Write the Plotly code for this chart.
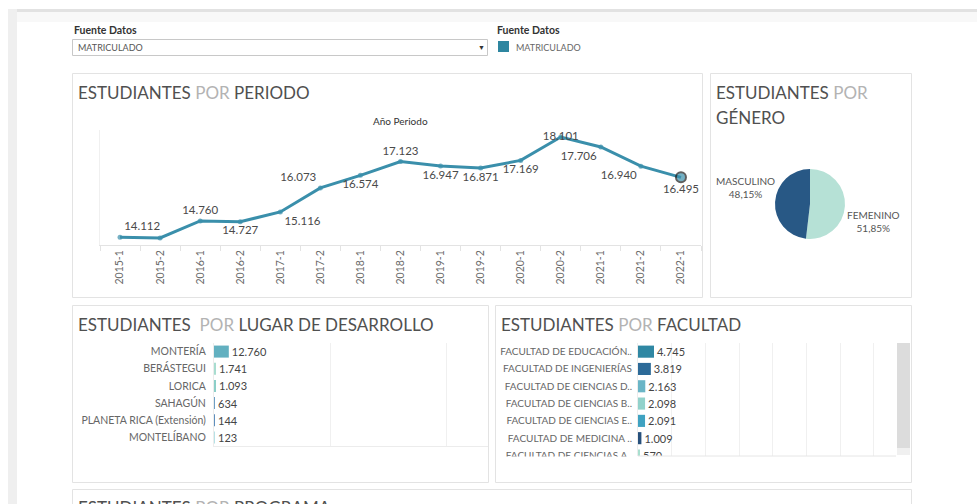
import plotly.graph_objects as go

W, H = 977, 504


def X(px):
    return px / W


def Y(py):
    return 1 - py / H


def fmt_miles(v):
    return f"{v:,}".replace(",", ".")


# ---------------- DATA ----------------
periodos = ["2015-1", "2015-2", "2016-1", "2016-2", "2017-1", "2017-2", "2018-1", "2018-2",
            "2019-1", "2019-2", "2020-1", "2020-2", "2021-1", "2021-2", "2022-1"]
estudiantes_periodo = [14112, 14080, 14760, 14727, 15116, 16073, 16574, 17123,
                       16947, 16871, 17169, 18101, 17706, 16940, 16495]
etiqueta_visible = [True, False, True, True, True, True, True, True,
                    True, True, True, True, True, True, True]

generos = ["FEMENINO", "MASCULINO"]
porcentaje_genero = [51.85, 48.15]

lugares = ["MONTERÍA", "BERÁSTEGUI", "LORICA", "SAHAGÚN", "PLANETA RICA (Extensión)", "MONTELÍBANO"]
estudiantes_lugar = [12760, 1741, 1093, 634, 144, 123]

facultades = ["FACULTAD DE EDUCACIÓN..", "FACULTAD DE INGENIERÍAS", "FACULTAD DE CIENCIAS D..",
              "FACULTAD DE CIENCIAS B..", "FACULTAD DE CIENCIAS E..", "FACULTAD DE MEDICINA ..",
              "FACULTAD DE CIENCIAS A.."]
estudiantes_facultad = [4745, 3819, 2163, 2098, 2091, 1009, 570]

fuente_datos = "MATRICULADO"

# ---------------- STYLE ----------------
FONT = "Lato, 'Open Sans', sans-serif"
LINE_COLOR = "#3a8fab"
TXT = "#555555"
BORDER = "#e3e3e3"

pos_periodo = ["top right", "top center", "top center", "bottom center", "bottom right",
               "top left", "bottom center", "top center", "bottom center", "bottom center",
               "bottom center", "middle center", "bottom left", "bottom left", "bottom center"]
col_lugar = ["#62b0c0", "#a8ddd0", "#8ccfc8", "#6e9fc4", "#5f8fbd", "#b7e2e6"]
col_facultad = ["#2f87a3", "#2c6a98", "#6ab5c6", "#92d2cb", "#3fa2c1", "#27507c", "#a8dfcf"]
col_genero = ["#b6e1d6", "#285885"]

fig = go.Figure()

n = len(periodos)
# ---------- line chart ----------
fig.add_trace(go.Scatter(
    x=periodos, y=estudiantes_periodo,
    mode="lines+markers+text",
    line=dict(color=LINE_COLOR, width=3),
    marker=dict(size=[5] * (n - 1) + [10], color=LINE_COLOR,
                line=dict(color=["rgba(0,0,0,0)"] * (n - 1) + ["#1b1b1b"],
                          width=[0] * (n - 1) + [2])),
    text=[fmt_miles(v) if s else "" for v, s in zip(estudiantes_periodo, etiqueta_visible)],
    textposition=pos_periodo,
    textfont=dict(size=11.5, color="#4a4a4a", family=FONT),
    cliponaxis=False,
    xaxis="x", yaxis="y", showlegend=False, hoverinfo="x+y",
))

# ---------- pie ----------
fig.add_trace(go.Pie(
    labels=generos, values=porcentaje_genero, sort=False, direction="clockwise", rotation=0,
    marker=dict(colors=col_genero, line=dict(width=0)), textinfo="none",
    domain=dict(x=[X(775), X(845)], y=[Y(239), Y(169)]), showlegend=False,
))

# ---------- lugar bars ----------
fig.add_trace(go.Bar(
    y=lugares, x=estudiantes_lugar, orientation="h",
    marker=dict(color=col_lugar, line=dict(width=0)), width=0.7,
    text=[fmt_miles(v) for v in estudiantes_lugar], textposition="outside",
    textfont=dict(size=11, color="#444444", family=FONT), constraintext="none",
    cliponaxis=False, xaxis="x2", yaxis="y2", showlegend=False,
))

# ---------- facultad bars ----------
fig.add_trace(go.Bar(
    y=facultades, x=estudiantes_facultad, orientation="h",
    marker=dict(color=col_facultad, line=dict(width=0)), width=0.7,
    text=[fmt_miles(v) for v in estudiantes_facultad], textposition="outside",
    textfont=dict(size=11, color="#444444", family=FONT), constraintext="none",
    cliponaxis=True, xaxis="x3", yaxis="y3", showlegend=False,
))

shapes = []


def rect(x0, y0, x1, y1, fill=None, line=None, layer="below", lw=1):
    shapes.append(dict(type="rect", xref="paper", yref="paper",
                       x0=X(x0), x1=X(x1), y0=Y(y1), y1=Y(y0),
                       fillcolor=fill or "rgba(0,0,0,0)",
                       line=dict(color=line or "rgba(0,0,0,0)", width=lw if line else 0),
                       layer=layer))


def hline(x0, x1, y, color, layer="below"):
    shapes.append(dict(type="line", xref="paper", yref="paper", x0=X(x0), x1=X(x1),
                       y0=Y(y), y1=Y(y), line=dict(color=color, width=1), layer=layer))


# page chrome
rect(8, 9, 977, 12, fill="#e2e2e2")
rect(8, 9, 17, 504, fill="#efefef")
rect(17, 12, 977, 22, fill="#f8f8f8")

# panels
rect(72.5, 73.5, 702.5, 297.5, line=BORDER)
rect(710.5, 73.5, 911.5, 297.5, line=BORDER)
rect(72.5, 305.5, 488.5, 482.5, line=BORDER)
rect(495.5, 305.5, 911.5, 482.5, line=BORDER)
rect(72.5, 489.5, 911.5, 520, line=BORDER)

# filter dropdown and legend
rect(72.5, 39.5, 487.5, 55.5, fill="white", line="#c8c8c8")
rect(498, 41, 509, 52, fill="#2e86a0")

# facultad clipping cover + scrollbar
rect(496, 456.5, 911, 482, fill="white", layer="above")
hline(638, 896, 456, "#e6e6e6", layer="above")
rect(897, 343, 910, 448, fill="#dcdcdc", layer="above")
rect(897, 448, 910, 455, fill="#f0f0f0", layer="above")

annotations = []


def txt(x, y, text, size=11, color=TXT, xanchor="left", yanchor="middle", align="left"):
    annotations.append(dict(xref="paper", yref="paper", x=X(x), y=Y(y), text=text,
                            showarrow=False, xanchor=xanchor, yanchor=yanchor, align=align,
                            font=dict(size=size, color=color, family=FONT)))


def title(x, y, a, b, c):
    t = f"<span style='color:#505050'>{a}</span> <span style='color:#b3b3b3'>{b}</span> <span style='color:#505050'>{c}</span>"
    txt(x, y, t, size=17)


txt(72, 30, "<b>Fuente Datos</b>", size=10.5, color="#333333")
txt(76, 47, fuente_datos, size=9, color="#555555")
txt(481, 47, "▼", size=7, color="#333333", xanchor="center")
txt(495, 30, "<b>Fuente Datos</b>", size=10.5, color="#333333")
txt(514, 47, fuente_datos, size=9, color="#666666")

title(76, 92, "ESTUDIANTES", "POR", "PERIODO")
title(714, 92, "ESTUDIANTES", "POR", "")
txt(714, 117, "GÉNERO", size=17, color="#505050")
title(76, 324, "ESTUDIANTES ", "POR", "LUGAR DE DESARROLLO")
title(499, 324, "ESTUDIANTES", "POR", "FACULTAD")
title(76, 507, "ESTUDIANTES", "POR", "PROGRAMA")
txt(400, 121, "Año Periodo", size=10, color="#333333", xanchor="center")

# pie labels
txt(745, 187, f"{generos[1]}<br>{porcentaje_genero[1]:.2f}%".replace(".", ","), size=10,
    color=TXT, xanchor="center", align="center")
txt(873, 221, f"{generos[0]}<br>{porcentaje_genero[0]:.2f}%".replace(".", ","), size=10,
    color=TXT, xanchor="center", align="center")

fig.update_layout(
    width=W, height=H, margin=dict(l=0, r=0, t=0, b=0, autoexpand=False),
    paper_bgcolor="white", plot_bgcolor="white",
    font=dict(family=FONT, color=TXT),
    shapes=shapes, annotations=annotations, bargap=0.3,
    xaxis=dict(domain=[X(100), X(701)], type="category", anchor="y", range=[-0.5, n - 0.5],
               tickangle=-90, tickfont=dict(size=10.5, color="#6a6a6a"),
               ticks="outside", tickson="boundaries", ticklen=5, tickcolor="#e3e3e3",
               showline=True, linecolor="#e3e3e3", showgrid=False, zeroline=False),
    yaxis=dict(domain=[Y(245), Y(130)], range=[13800, 18380], anchor="x",
               showticklabels=False, showgrid=False, zeroline=False,
               showline=True, linecolor="#f0f0f0", ticks=""),
    xaxis2=dict(domain=[X(214), X(488)], range=[0, 236000], anchor="y2", dtick=100000,
                showticklabels=False, showgrid=True, gridcolor="#f0f0f0", zeroline=False,
                showline=True, linecolor="#ececec"),
    yaxis2=dict(domain=[Y(446), Y(343)], type="category", range=[5.5, -0.5], anchor="x2",
                tickfont=dict(size=10.5, color="#666666"), showline=True, linecolor="#ececec",
                ticks="outside", ticklen=5, tickcolor="rgba(0,0,0,0)", showgrid=False),
    xaxis3=dict(domain=[X(638), X(895)], range=[0, 76300], anchor="y3", dtick=10000,
                showticklabels=False, showgrid=True, gridcolor="#f0f0f0", zeroline=False,
                showline=False),
    yaxis3=dict(domain=[Y(456), Y(343)], type="category", range=[6.03, -0.5], anchor="x3",
                tickfont=dict(size=10, color="#666666"), showline=True, linecolor="#ececec",
                ticks="outside", ticklen=3, tickcolor="rgba(0,0,0,0)", showgrid=False),
)

# remove the default 8px page margin so the figure fills the 977x504 window exactly
fig.write_html("out.html", config={"displayModeBar": False},
               post_script="document.body.style.margin='0';document.body.style.overflow='hidden';")
